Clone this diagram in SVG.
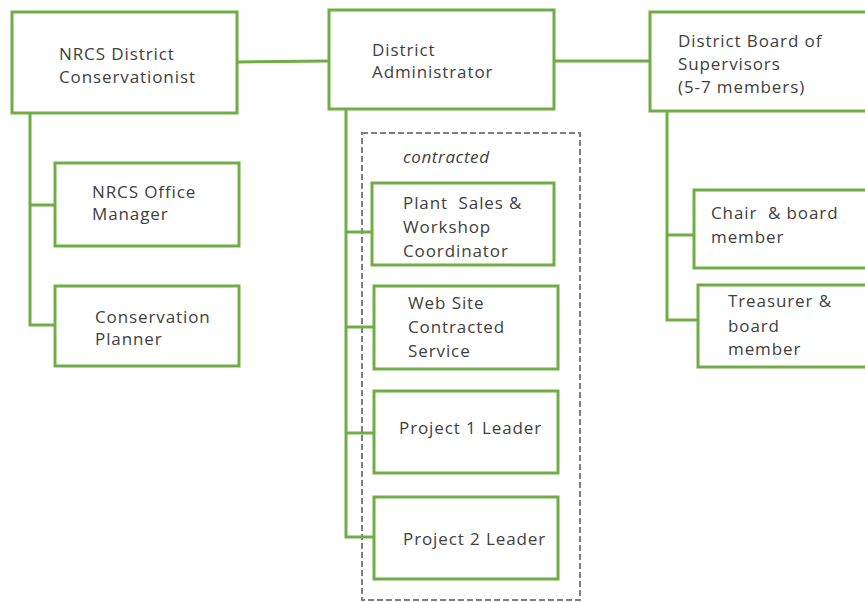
<svg xmlns="http://www.w3.org/2000/svg" width="865" height="602" viewBox="0 0 865 602">
  <style>
    .box { fill: #ffffff; stroke: #70ad47; stroke-width: 3; }
    .link { fill: none; stroke: #70ad47; stroke-width: 3; }
    .group { fill: none; stroke: #7f7f7f; stroke-width: 2; stroke-dasharray: 6 3; }
    text { font-family: "Open Sans", "DejaVu Sans", sans-serif; font-size: 17px; letter-spacing: 0.9px; fill: #404040; }
    .note { font-style: italic; letter-spacing: 0.6px; }
  </style>
  <rect width="865" height="602" fill="#ffffff"/>

  <!-- contracted staff grouping -->
  <g id="contracted-group">
    <rect class="group" x="362" y="133" width="218" height="467"/>
    <text class="note" x="403" y="163">contracted</text>
  </g>

  <!-- connectors -->
  <g id="connectors">
    <line class="link" x1="237" y1="62" x2="329" y2="61"/>
    <line class="link" x1="554" y1="61" x2="650" y2="61"/>
    <polyline class="link" points="30,113 30,325 55,325"/>
    <line class="link" x1="30" y1="205" x2="55" y2="205"/>
    <polyline class="link" points="346,109 346,537 374,537"/>
    <line class="link" x1="346" y1="232" x2="372" y2="232"/>
    <line class="link" x1="346" y1="327" x2="374" y2="327"/>
    <line class="link" x1="346" y1="433" x2="374" y2="433"/>
    <polyline class="link" points="667,111 667,320 698,320"/>
    <line class="link" x1="667" y1="235" x2="694" y2="235"/>
  </g>

  <g id="nrcs-district-conservationist">
    <rect class="box" x="12" y="12" width="225" height="101"/>
    <text x="59" y="60">NRCS District</text>
    <text x="59" y="83">Conservationist</text>
  </g>

  <g id="district-administrator">
    <rect class="box" x="329" y="10" width="225" height="99"/>
    <text x="372" y="56">District</text>
    <text x="372" y="78">Administrator</text>
  </g>

  <g id="district-board">
    <rect class="box" x="650" y="12" width="220" height="99"/>
    <text x="678" y="47">District Board of</text>
    <text x="678" y="70">Supervisors</text>
    <text x="678" y="93">(5-7 members)</text>
  </g>

  <g id="nrcs-office-manager">
    <rect class="box" x="55" y="163" width="184" height="83"/>
    <text x="92" y="198">NRCS Office</text>
    <text x="92" y="220">Manager</text>
  </g>

  <g id="conservation-planner">
    <rect class="box" x="55" y="286" width="184" height="80"/>
    <text x="95" y="323">Conservation</text>
    <text x="95" y="345">Planner</text>
  </g>

  <g id="plant-sales-coordinator">
    <rect class="box" x="372" y="183" width="182" height="82"/>
    <text x="403" y="209" xml:space="preserve">Plant  Sales &amp;</text>
    <text x="403" y="233">Workshop</text>
    <text x="403" y="257">Coordinator</text>
  </g>

  <g id="web-site-service">
    <rect class="box" x="374" y="286" width="184" height="83"/>
    <text x="408" y="309">Web Site</text>
    <text x="408" y="333">Contracted</text>
    <text x="408" y="357">Service</text>
  </g>

  <g id="project-1-leader">
    <rect class="box" x="374" y="391" width="184" height="82"/>
    <text x="399" y="434">Project 1 Leader</text>
  </g>

  <g id="project-2-leader">
    <rect class="box" x="374" y="497" width="184" height="82"/>
    <text x="403" y="545">Project 2 Leader</text>
  </g>

  <g id="chair">
    <rect class="box" x="694" y="190" width="176" height="78"/>
    <text x="711" y="219" xml:space="preserve">Chair  &amp; board</text>
    <text x="711" y="243">member</text>
  </g>

  <g id="treasurer">
    <rect class="box" x="698" y="285" width="172" height="82"/>
    <text x="728" y="307">Treasurer &amp;</text>
    <text x="728" y="332">board</text>
    <text x="728" y="355">member</text>
  </g>
</svg>
